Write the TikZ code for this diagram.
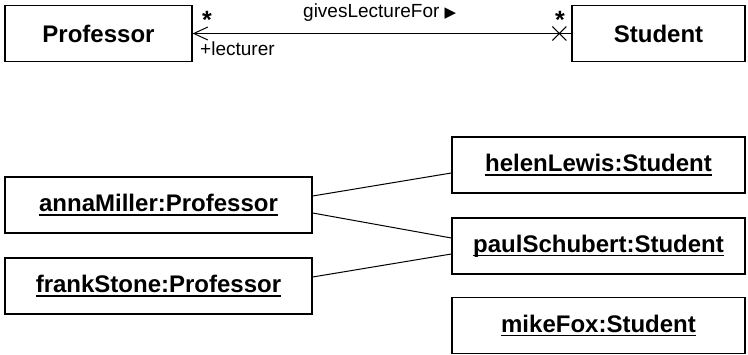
\documentclass[tikz,border=0pt]{standalone}
\usepackage{fontspec}
\setmainfont{Liberation Sans}
\newfontfamily\dejavu{DejaVu Sans}
\usetikzlibrary{arrows.meta}
\newsavebox\ulsave
\newcommand\ulbox[1]{\sbox\ulsave{#1}\rlap{\rule[-4pt]{\wd\ulsave}{1.6pt}}\usebox\ulsave}
\tikzset{
  umlbox/.style={draw, line width=1.3pt, inner sep=0pt, minimum height=56pt,
    font=\fontsize{24}{28}\selectfont\bfseries},
  lbl/.style={inner sep=0pt, font=\fontsize{19}{22}\selectfont},
  mult/.style={inner sep=0pt, anchor=base, font=\fontsize{25}{25}\selectfont\bfseries},
  link/.style={line width=1pt}
}
\begin{document}
\begin{tikzpicture}[x=1pt,y=-1pt]
\useasboundingbox (0,0) rectangle (748,355);
\fill[white] (0,0) rectangle (748,355);
% class diagram
\node[umlbox, minimum width=187pt] (prof) at (98.5,33.5) {Professor};
\node[umlbox, minimum width=173pt] (stud) at (658.5,33.5) {Student};
\draw[link, {Straight Barb[length=14pt,width=13pt,line width=1pt]}-] (prof.east) -- (stud.west);
\coordinate (nav) at ([xshift=-12pt]stud.west);
\draw[link] (nav) +(-7,-7) -- +(7,7);
\draw[link] (nav) +(-7,7) -- +(7,-7);
\node[mult] (m1) at (207,29) {*};
\node[mult] (m2) at (560,29) {*};
\node[lbl, anchor=base west] (role) at (200,56) {+lecturer};
\node[lbl, anchor=base west] (assoc) at (303,18) {givesLectureFor {\dejavu\fontsize{15}{15}\selectfont ▶}};
% object diagram
\node[umlbox, minimum width=307pt] (anna) at (158.5,205) {\ulbox{annaMiller:Professor}};
\node[umlbox, minimum width=307pt] (frank) at (158.5,286) {\ulbox{frankStone:Professor}};
\node[umlbox, minimum width=293pt] (helen) at (598.5,165) {\ulbox{helenLewis:Student}};
\node[umlbox, minimum width=293pt] (paul) at (598.5,246) {\ulbox{paulSchubert:Student}};
\node[umlbox, minimum width=293pt] (mike) at (598.5,325.5) {\ulbox{mikeFox:Student}};
\draw[link] ([yshift=9pt]anna.east) -- ([yshift=-8pt]helen.west);
\draw[link] ([yshift=-8pt]anna.east) -- ([yshift=8pt]paul.west);
\draw[link] ([yshift=9pt]frank.east) -- ([yshift=-8pt]paul.west);
\end{tikzpicture}
\end{document}
